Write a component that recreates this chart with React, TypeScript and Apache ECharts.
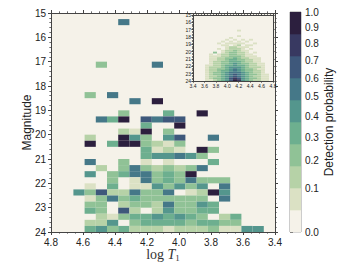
import React, { useEffect, useRef } from 'react';
import * as echarts from 'echarts';

// ---- colour map (cubehelix-like, 10 discrete bands) ----
const PALETTE = ['#f5f2e9', '#dbe1c4', '#b6d2a7', '#90c296', '#6daf8f', '#54968d', '#457888', '#3e587b', '#383961', '#2c1f3e'];
const GAMMA = 0.7; // power-law colour normalisation
const CB_LABELS = [0, 0.1, 0.2, 0.3, 0.4, 0.5, 0.6, 0.7, 0.8, 0.9, 1.0];

// ---- axes ----
const LOGT_MIN = 3.4;
const LOGT_MAX = 4.8;
const MAG_MIN = 15;
const MAG_MAX = 24;
const N_X = 20;
const N_Y = 36;
const BIN_X = (LOGT_MAX - LOGT_MIN) / N_X;
const BIN_Y = (MAG_MAX - MAG_MIN) / N_Y;

// ---- main panel: detection probability per (logT column from 4.8, magnitude row from 15) ----
const sparseCells: [number, number, number][] = [
  [6, 1, 0.5],
  [4, 8, 0.22],
  [9, 8, 0.5],
  [3, 13, 0.22],
  [5, 13, 0.5],
  [7, 14, 0.5],
  [9, 14, 1.0],
];
const DENSE_ROW0 = 16;
const DENSE_COL0 = 2;
const denseRows: number[][] = [
  [0, 0, 0, 0, .22, 0, 0, 0, .33, 0, 0, 1, 0, 0, 0, 0, 0, 0],
  [0, 0, .5, .33, 1, 0, .67, .5, .67, .67, 0, 0, 0, 0, 0, 0, 0, 0],
  [0, 0, 0, 0, 0, 0, .33, 0, 0, 1, 0, 0, 0, 0, 0, 0, 0, 0],
  [0, 0, 0, 0, .14, .07, 1, 0, .22, 0, 0, 0, 0, 0, 0, 0, 0, 0],
  [0, .14, 0, 0, 1, .42, .22, 0, .42, .67, 0, 0, .5, 0, 0, 0, 0, 0],
  [0, 1, 0, .33, 1, 1, .22, .14, .07, .22, 0, 0, 0, 0, 0, 0, 0, 0],
  [0, 0, 0, 0, 0, 0, .33, .07, .14, .07, 0, 1, .22, 0, 0, 0, 0, 0],
  [0, 0, 0, 0, 0, 0, .33, .42, .42, .5, .42, .22, 0, 0, 0, 0, 0, 0],
  [0, .5, 0, 0, .22, 0, .07, 0, .07, 0, 0, 0, .33, 0, 0, 0, 0, 0],
  [0, 0, .14, 0, .22, .5, .22, .14, .22, .14, .22, .5, 0, 0, 0, 0, 0, 0],
  [0, .42, 0, .22, .33, .5, .5, .22, .33, .22, 1, 0, 0, 0, 0, 0, 0, 0],
  [0, 0, 0, .22, 0, .07, .5, .22, .33, .22, .5, .22, .22, .22, 0, 0, 0, 0],
  [0, .07, 0, .33, 0, .07, .07, .42, .22, .42, .22, .42, 0, .5, 0, 0, 0, 0],
  [.42, .22, .67, .14, .14, .5, .22, .22, .5, 0, .07, .14, 1, .42, 0, 0, 0, 0],
  [0, .07, .22, .5, .22, .33, .22, .22, .22, .22, .22, .22, 0, .5, 0, 0, 0, 0],
  [0, .22, .22, 0, .14, .22, .22, .14, .5, .22, .22, .42, .33, 0, 0, 0, 0, 0],
  [0, .33, .22, 0, .67, .14, 0, .14, .42, .22, .22, .33, .33, 0, 0, 0, 0, 0],
  [0, 0, .14, .07, .22, .33, .33, .42, .33, .42, .33, .22, 0, .14, .33, 0, 0, 0],
  [0, .14, .14, .42, 0, .22, .33, .33, .33, .33, .22, .33, .33, .22, .22, 0, 0, 0],
  [0, .33, .42, .22, .33, .14, .14, .14, .07, .14, .14, .14, .22, .07, .07, .42, .42, 0],
];

// ---- inset: relative density level (0-9) per (logT column from 3.4, magnitude row) ----
const INSET_ROW0 = 8;
const INSET_COL0 = 3;
const insetRows: number[][] = [
  [0, 0, 0, 0, 0, 0, 0, 0, 1, 0, 0, 0, 0, 0, 0, 0],
  [0, 0, 0, 0, 0, 0, 0, 0, 0, 0, 0, 0, 0, 0, 0, 0],
  [0, 0, 0, 0, 0, 0, 0, 0, 0, 0, 0, 0, 0, 0, 0, 0],
  [0, 0, 0, 0, 0, 0, 0, 0, 1, 0, 0, 0, 0, 0, 0, 0],
  [0, 0, 0, 0, 0, 0, 1, 0, 0, 0, 0, 0, 0, 0, 0, 0],
  [0, 0, 0, 0, 0, 1, 0, 1, 0, 1, 0, 1, 0, 0, 0, 0],
  [0, 0, 0, 0, 1, 0, 1, 0, 1, 0, 1, 0, 0, 0, 0, 0],
  [0, 0, 0, 1, 0, 1, 1, 1, 1, 1, 0, 0, 1, 0, 0, 0],
  [0, 0, 0, 0, 1, 1, 0, 1, 2, 0, 1, 1, 0, 0, 0, 0],
  [0, 0, 0, 0, 0, 1, 2, 2, 1, 1, 1, 0, 0, 0, 0, 0],
  [0, 0, 0, 1, 0, 1, 2, 2, 2, 1, 0, 1, 0, 0, 0, 0],
  [0, 0, 0, 0, 1, 2, 2, 3, 2, 1, 1, 0, 0, 0, 0, 0],
  [0, 0, 3, 0, 1, 2, 3, 3, 2, 2, 1, 0, 1, 0, 0, 0],
  [0, 1, 0, 1, 2, 2, 3, 3, 2, 2, 1, 1, 0, 0, 0, 0],
  [0, 1, 1, 1, 2, 2, 3, 3, 3, 2, 1, 1, 1, 0, 0, 0],
  [0, 1, 1, 2, 2, 3, 3, 4, 3, 2, 2, 1, 1, 1, 0, 0],
  [0, 1, 1, 2, 2, 3, 4, 4, 3, 3, 2, 2, 1, 1, 0, 0],
  [0, 1, 2, 2, 3, 3, 4, 4, 4, 3, 2, 2, 1, 1, 0, 0],
  [0, 1, 2, 2, 3, 3, 4, 5, 4, 3, 3, 2, 2, 1, 1, 0],
  [1, 1, 2, 2, 3, 4, 4, 5, 4, 4, 3, 2, 2, 1, 1, 0],
  [1, 2, 2, 2, 3, 4, 5, 5, 5, 4, 3, 2, 2, 2, 1, 0],
  [1, 2, 2, 3, 3, 4, 5, 6, 5, 4, 3, 3, 2, 1, 1, 0],
  [1, 2, 2, 3, 4, 4, 5, 6, 5, 4, 3, 3, 2, 2, 1, 0],
  [1, 2, 3, 3, 4, 5, 6, 6, 6, 5, 4, 3, 2, 2, 1, 0],
  [1, 2, 3, 3, 4, 5, 6, 7, 6, 5, 4, 3, 3, 2, 1, 1],
  [1, 2, 2, 3, 4, 5, 6, 7, 6, 5, 4, 3, 2, 2, 1, 1],
  [1, 2, 3, 3, 4, 5, 7, 8, 7, 5, 4, 3, 3, 2, 1, 1],
  [1, 1, 2, 3, 4, 5, 7, 9, 8, 5, 4, 3, 2, 2, 1, 1],
];

const FONT = '"Liberation Sans", Arial, Helvetica, sans-serif';
const SERIF = '"Liberation Serif", "DejaVu Serif", serif';
const AXIS_COLOR = '#444';

function buildMainCells() {
  const out: number[][] = [];
  const push = (c: number, r: number, p: number) => {
    if (p <= 0) return;
    const xHi = LOGT_MAX - c * BIN_X;
    const yLo = MAG_MIN + r * BIN_Y;
    out.push([xHi - BIN_X, xHi, yLo, yLo + BIN_Y, p]);
  };
  sparseCells.forEach(([c, r, p]) => push(c, r, p));
  denseRows.forEach((row, i) => row.forEach((p, j) => push(j + DENSE_COL0, i + DENSE_ROW0, p)));
  return out;
}

function buildInsetCells() {
  const out: number[][] = [];
  insetRows.forEach((row, i) =>
    row.forEach((lvl, j) => {
      if (lvl <= 0) return;
      const xLo = LOGT_MIN + (j + INSET_COL0) * BIN_X;
      const yLo = MAG_MIN + (i + INSET_ROW0) * BIN_Y;
      out.push([xLo, xLo + BIN_X, yLo, yLo + BIN_Y, lvl]);
    })
  );
  return out;
}

const rectItem = (params: any, api: any) => {
  const p0 = api.coord([api.value(0), api.value(2)]);
  const p1 = api.coord([api.value(1), api.value(3)]);
  return {
    type: 'rect',
    shape: {
      x: Math.min(p0[0], p1[0]),
      y: Math.min(p0[1], p1[1]),
      width: Math.abs(p1[0] - p0[0]),
      height: Math.abs(p1[1] - p0[1]),
    },
    style: { fill: api.visual('color') },
  };
};

function axis(opts: any) {
  const { grid, position, min, max, interval, inverse, labels, fontSize, tickLen, split, margin, fmt } = opts;
  return {
    type: 'value',
    gridIndex: grid,
    position,
    min,
    max,
    interval,
    inverse,
    axisLine: { show: true, onZero: false, lineStyle: { color: AXIS_COLOR, width: 1 } },
    axisTick: { show: true, inside: false, length: tickLen, lineStyle: { color: AXIS_COLOR, width: 1 } },
    minorTick: { show: true, splitNumber: split, length: tickLen * 0.55, lineStyle: { color: AXIS_COLOR, width: 0.8 } },
    splitLine: { show: false },
    minorSplitLine: { show: false },
    axisLabel: {
      show: labels,
      fontSize,
      fontFamily: FONT,
      color: '#222',
      margin,
      formatter: fmt,
    },
  };
}

export default function App() {
  const ref = useRef<HTMLDivElement>(null);

  useEffect(() => {
    if (!ref.current) return;
    const chart = echarts.init(ref.current, null, { renderer: 'svg' });

    const pieces = PALETTE.map((color, k) => {
      const lo = Math.pow(k / 10, 1 / GAMMA);
      const hi = Math.pow((k + 1) / 10, 1 / GAMMA);
      return k === 9 ? { gte: lo, lte: 1.0001, color } : { gte: lo, lt: hi, color };
    });
    const cbPositions = CB_LABELS.map((v) => Math.pow(v, GAMMA));

    const f1 = (v: number) => v.toFixed(1);
    const f0 = (v: number) => String(Math.round(v));

    const mainGrid = { left: 51, top: 13, width: 224, height: 219 };
    const insetGrid = { left: 193, top: 15, width: 80, height: 66 };
    const cbGrid = { left: 290, top: 12, width: 11, height: 220 };

    const option: any = {
      animation: false,
      backgroundColor: '#ffffff',
      grid: [
        { ...mainGrid, show: true, backgroundColor: PALETTE[0], borderWidth: 0, containLabel: false },
        { ...insetGrid, show: true, backgroundColor: PALETTE[0], borderWidth: 0, containLabel: false },
        { ...cbGrid, show: true, backgroundColor: 'transparent', borderColor: '#999', borderWidth: 1, containLabel: false },
      ],
      xAxis: [
        {
          ...axis({ grid: 0, position: 'bottom', min: LOGT_MIN, max: LOGT_MAX, interval: 0.2, inverse: true, labels: true, fontSize: 10, tickLen: 3, split: 4, margin: 5, fmt: f1 }),
          name: '{n|log }{i|T}{s|1}',
          nameLocation: 'middle',
          nameGap: 14,
          nameMoveOverlap: false,
          nameTextStyle: {
            rich: {
              n: { fontFamily: SERIF, fontSize: 14, color: '#333' },
              i: { fontFamily: SERIF, fontStyle: 'italic', fontSize: 14, color: '#333' },
              s: { fontFamily: SERIF, fontSize: 9, color: '#333', padding: [7, 0, 0, 0] },
            },
          },
        },
        axis({ grid: 0, position: 'top', min: LOGT_MIN, max: LOGT_MAX, interval: 0.2, inverse: true, labels: false, fontSize: 10, tickLen: 3, split: 4, margin: 5, fmt: f1 }),
        axis({ grid: 1, position: 'bottom', min: LOGT_MIN, max: LOGT_MAX, interval: 0.2, inverse: false, labels: true, fontSize: 5, tickLen: 1.6, split: 4, margin: 2, fmt: f1 }),
        axis({ grid: 1, position: 'top', min: LOGT_MIN, max: LOGT_MAX, interval: 0.2, inverse: false, labels: false, fontSize: 5, tickLen: 1.6, split: 4, margin: 2, fmt: f1 }),
        { type: 'value', gridIndex: 2, min: 0, max: 1, show: false },
      ],
      yAxis: [
        {
          ...axis({ grid: 0, position: 'left', min: MAG_MIN, max: MAG_MAX, interval: 1, inverse: true, labels: true, fontSize: 10, tickLen: 3, split: 5, margin: 5, fmt: f0 }),
          name: 'Magnitude',
          nameLocation: 'middle',
          nameGap: 18,
          nameRotate: 90,
          nameMoveOverlap: false,
          nameTextStyle: { fontFamily: FONT, fontSize: 12, color: '#222' },
        },
        axis({ grid: 0, position: 'right', min: MAG_MIN, max: MAG_MAX, interval: 1, inverse: true, labels: false, fontSize: 10, tickLen: 3, split: 5, margin: 5, fmt: f0 }),
        axis({ grid: 1, position: 'left', min: MAG_MIN, max: MAG_MAX, interval: 1, inverse: true, labels: true, fontSize: 5, tickLen: 1.6, split: 5, margin: 2, fmt: f0 }),
        axis({ grid: 1, position: 'right', min: MAG_MIN, max: MAG_MAX, interval: 1, inverse: true, labels: false, fontSize: 5, tickLen: 1.6, split: 5, margin: 2, fmt: f0 }),
        {
          type: 'value',
          gridIndex: 2,
          position: 'right',
          min: 0,
          max: 1,
          axisLine: { show: false },
          splitLine: { show: false },
          axisTick: {
            show: true,
            length: 3,
            lineStyle: { color: '#555', width: 1 },
            customValues: cbPositions,
          },
          axisLabel: {
            show: true,
            fontSize: 10,
            fontFamily: FONT,
            color: '#222',
            margin: 4,
            customValues: cbPositions,
            formatter: (v: number) => Math.pow(v, 1 / GAMMA).toFixed(1),
          },
          name: 'Detection probability',
          nameLocation: 'middle',
          nameRotate: 90,
          nameGap: 21,
          nameTextStyle: { fontFamily: FONT, fontSize: 12, color: '#222' },
        },
      ],
      visualMap: [
        { type: 'piecewise', show: false, dimension: 4, seriesIndex: 0, pieces },
        {
          type: 'piecewise',
          show: false,
          dimension: 4,
          seriesIndex: 1,
          pieces: PALETTE.map((color, k) => ({ value: k, color })),
        },
      ],
      series: [
        {
          type: 'custom',
          xAxisIndex: 0,
          yAxisIndex: 0,
          renderItem: rectItem,
          encode: { x: [0, 1], y: [2, 3] },
          data: buildMainCells(),
          clip: true,
        },
        {
          type: 'custom',
          xAxisIndex: 2,
          yAxisIndex: 2,
          renderItem: rectItem,
          encode: { x: [0, 1], y: [2, 3] },
          data: buildInsetCells(),
          clip: true,
          z: 5,
        },
        {
          type: 'custom',
          xAxisIndex: 4,
          yAxisIndex: 4,
          encode: { x: [0, 1], y: [2, 3] },
          renderItem: (params: any, api: any) => {
            const p0 = api.coord([api.value(0), api.value(2)]);
            const p1 = api.coord([api.value(1), api.value(3)]);
            return {
              type: 'rect',
              shape: {
                x: Math.min(p0[0], p1[0]),
                y: Math.min(p0[1], p1[1]),
                width: Math.abs(p1[0] - p0[0]),
                height: Math.abs(p1[1] - p0[1]) + 0.3,
              },
              style: { fill: PALETTE[api.value(4)] },
            };
          },
          data: PALETTE.map((_, k) => [0, 1, k / 10, (k + 1) / 10, k]),
        },
      ],
    };

    chart.setOption(option);
    return () => chart.dispose();
  }, []);

  return <div ref={ref} style={{ position: 'absolute', left: 0, top: 0, width: 341, height: 271 }} />;
}
